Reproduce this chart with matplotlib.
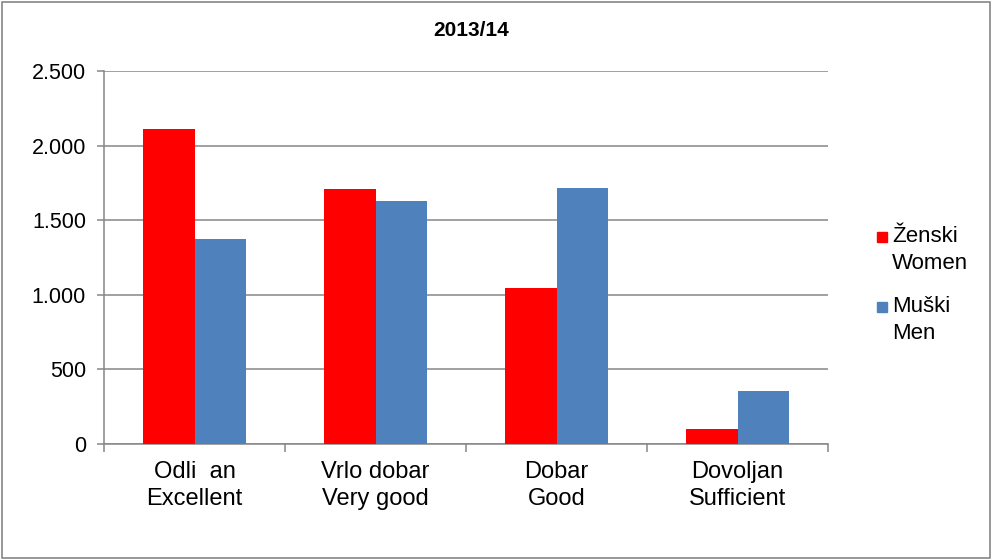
import numpy as np
import matplotlib.pyplot as plt
from matplotlib.patches import Rectangle
from matplotlib.ticker import FuncFormatter, FixedLocator

plt.rcParams['font.family'] = ['Liberation Sans', 'DejaVu Sans']

# data
categories = ['Odli  an\nExcellent', 'Vrlo dobar\nVery good', 'Dobar\nGood', 'Dovoljan\nSufficient']
women = [2110, 1710, 1045, 100]
men = [1375, 1630, 1715, 355]
series_labels = ['Ženski\nWomen', 'Muški\nMen']
colors = ['#FF0000', '#4F81BD']

fig = plt.figure(figsize=(9.92, 5.6), dpi=100)
ax = fig.add_axes([104 / 992, 1 - 444 / 560, (828 - 104) / 992, (444 - 71) / 560])

x = np.arange(len(categories))
w = 0.285
ax.bar(x - w / 2, women, width=w, color=colors[0], zorder=3)
ax.bar(x + w / 2, men, width=w, color=colors[1], zorder=3)

ax.set_xlim(-0.5, len(categories) - 0.5)
ax.set_ylim(0, 2500)
ax.set_yticks(np.arange(0, 2501, 500))
ax.yaxis.set_major_formatter(FuncFormatter(lambda v, p: f'{int(v):,}'.replace(',', '.')))
ax.grid(axis='y', color='#868686', linewidth=1.1, zorder=0)

ax.set_xticks(x)
ax.set_xticklabels(categories, fontsize=17, linespacing=1.3)
ax.xaxis.set_minor_locator(FixedLocator(np.arange(-0.5, len(categories), 1.0)))
ax.tick_params(axis='x', which='major', length=0, pad=12)
ax.tick_params(axis='x', which='minor', length=6, width=1.1, color='#868686', direction='out')
ax.tick_params(axis='y', length=5, width=1.1, color='#868686', labelsize=15.5, pad=8)

for s in ['top', 'right']:
    ax.spines[s].set_visible(False)
for s in ['left', 'bottom']:
    ax.spines[s].set_color('#868686')
    ax.spines[s].set_linewidth(1.1)

fig.text(471 / 992, 1 - 30 / 560, '2013/14', ha='center', va='center',
         fontsize=15, fontweight='bold')

# legend
leg_y = [237, 307]
for lbl, c, yy in zip(series_labels, colors, leg_y):
    fig.patches.append(Rectangle((877 / 992, 1 - (yy + 5) / 560), 10 / 992, 10 / 560,
                                 transform=fig.transFigure, color=c))
    fig.text(892 / 992, 1 - (yy - 11) / 560, lbl, ha='left', va='top',
             fontsize=16, linespacing=1.35)

# outer frame
fig.patches.append(Rectangle((2 / 992, 2 / 560), 988 / 992, 556 / 560, transform=fig.transFigure,
                             fill=False, edgecolor='#868686', linewidth=1.2))

fig.savefig('out.png', dpi=100)
